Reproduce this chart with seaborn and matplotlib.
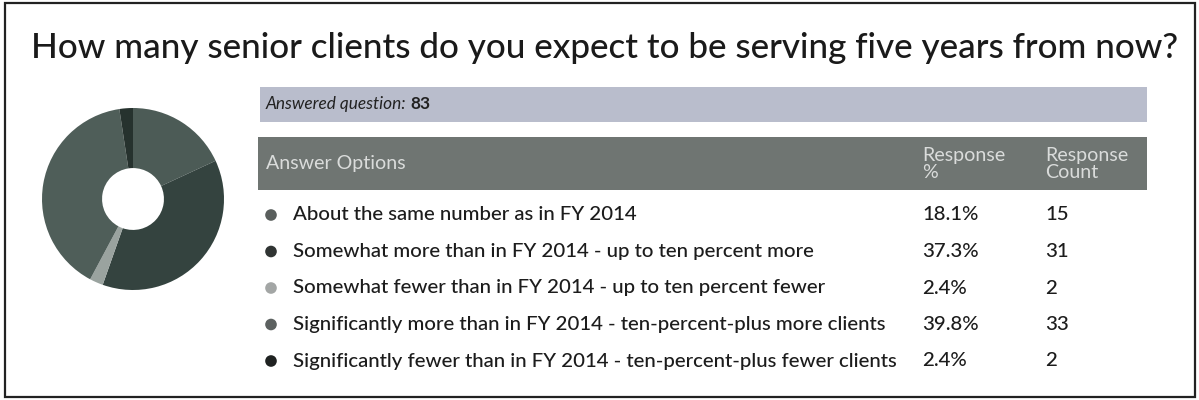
import matplotlib
matplotlib.use("Agg")
import matplotlib.pyplot as plt
import seaborn as sns
import pandas as pd
from matplotlib.patches import Rectangle

sns.set_theme(style="white")
plt.rcParams['font.family'] = ['Lato', 'DejaVu Sans']

title = "How many senior clients do you expect to be serving five years from now?"
answered = 83
options = [
    "About the same number as in FY 2014",
    "Somewhat more than in FY 2014 - up to ten percent more",
    "Somewhat fewer than in FY 2014 - up to ten percent fewer",
    "Significantly more than in FY 2014 - ten-percent-plus more clients",
    "Significantly fewer than in FY 2014 - ten-percent-plus fewer clients",
]
percents = [18.1, 37.3, 2.4, 39.8, 2.4]
counts = [15, 31, 2, 33, 2]
slice_colors = ["#4c5b56", "#34433f", "#9aa39f", "#4f5e59", "#26322e"]
bullet_colors = ["#5a5f5d", "#303433", "#a3a6a5", "#5c6160", "#1f2221"]

W, H = 1199, 400
fig = plt.figure(figsize=(W / 100, H / 100), dpi=100)
ax = fig.add_axes([0, 0, 1, 1])
ax.set_xlim(0, W)
ax.set_ylim(H, 0)
ax.axis("off")
renderer = fig.canvas.get_renderer()


def fit(t, target):
    w = t.get_window_extent(renderer).width
    t.set_fontsize(t.get_fontsize() * target / w)
    return t


# border
ax.add_patch(Rectangle((5, 3), 1190, 394, fill=False, edgecolor="#222222", lw=1.6))

# title
tt = ax.text(31, 48, title, fontsize=26, color="#1a1a1a", va="center", ha="left",
             weight="medium")
fit(tt, 1148)

# answered bar
ax.add_patch(Rectangle((260, 87), 887, 35, facecolor="#b9bdcc", edgecolor="none"))
a1 = ax.text(266, 104, "Answered question: ", fontsize=10, style="italic", color="#222",
             va="center", ha="left")
fit(a1, 145)
a1w = a1.get_window_extent(renderer).width
ax.text(266 + a1w, 104, f"{answered}", fontsize=a1.get_fontsize(), weight="bold",
        color="#222", va="center", ha="left")

# header bar
ax.add_patch(Rectangle((258, 137), 889, 53, facecolor="#6f7572", edgecolor="none"))
hdr_col = "#dadcdb"
h1 = ax.text(266, 163, "Answer Options", fontsize=13.5, color=hdr_col, va="center", ha="left")
fit(h1, 140)
ax.text(922, 164, "Response\n%", fontsize=h1.get_fontsize(), color=hdr_col, va="center",
        ha="left", linespacing=1.0)
ax.text(1045, 164, "Response\nCount", fontsize=h1.get_fontsize(), color=hdr_col, va="center",
        ha="left", linespacing=1.0)

# rows
df = pd.DataFrame({"option": options, "pct": percents, "count": counts})
df["y"] = 215 + df.index * 36.5
df["x"] = 271
sns.scatterplot(data=df, x="x", y="y", hue="option", palette=bullet_colors,
                s=70, legend=False, ax=ax, edgecolor="none")
probe = ax.text(0, 0, options[-1], fontsize=14.5, weight="medium")
fit(probe, 605)
fs = probe.get_fontsize()
probe.remove()
for _, r in df.iterrows():
    ax.text(293, r["y"], r["option"], fontsize=fs, color="#1c1c1c", va="center", ha="left",
            weight="medium")
    ax.text(922, r["y"], f"{r['pct']:.1f}%", fontsize=fs, color="#1c1c1c", va="center",
            ha="left", weight="medium")
    ax.text(1045, r["y"], f"{r['count']}", fontsize=fs, color="#1c1c1c", va="center",
            ha="left", weight="medium")
ax.set_xlim(0, W)
ax.set_ylim(H, 0)

# donut
cx, cy, rad = 133, 199, 91
pax = fig.add_axes([(cx - rad) / W, (H - cy - rad) / H, 2 * rad / W, 2 * rad / H])
pax.pie(percents, colors=slice_colors, startangle=90, counterclock=False,
        wedgeprops=dict(width=0.66, edgecolor="none"))
pax.set_xlim(-1, 1)
pax.set_ylim(-1, 1)
pax.set_aspect("auto")
pax.axis("off")

fig.savefig("out.png", dpi=100)
